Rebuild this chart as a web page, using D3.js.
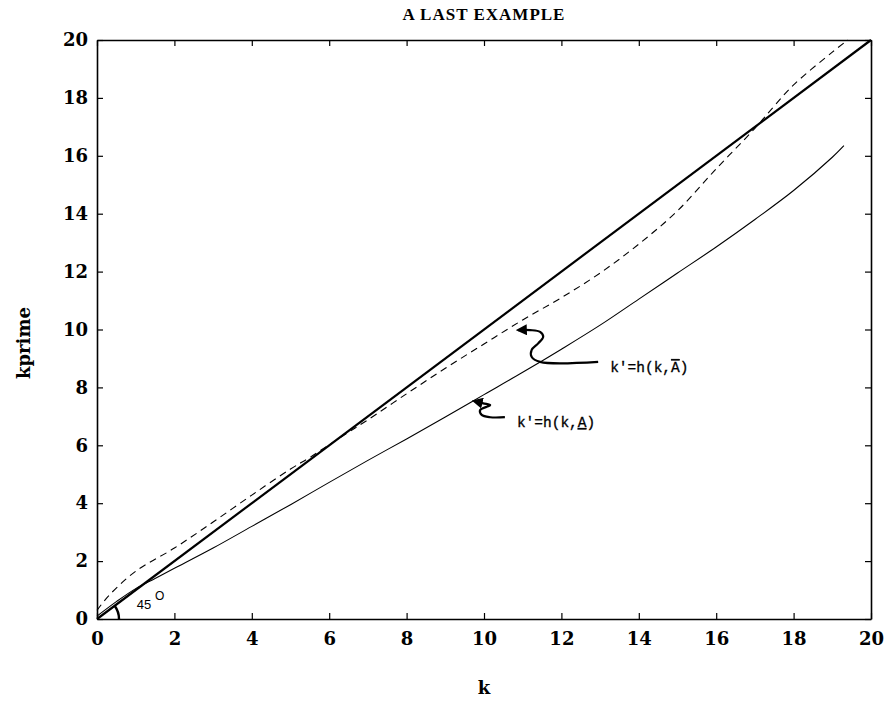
<!DOCTYPE html>
<html>
<head>
<meta charset="utf-8">
<script src="https://cdn.jsdelivr.net/npm/d3@7/dist/d3.min.js"></script>
<style>
  html, body { margin: 0; padding: 0; background: #fff; }
  svg { display: block; }
</style>
</head>
<body>
<svg id="chart" width="890" height="701"></svg>
<script>
// ---------- data ----------
const title = "A LAST EXAMPLE";
const xLabel = "k";
const yLabel = "kprime";
const xTicks = [0, 2, 4, 6, 8, 10, 12, 14, 16, 18, 20];
const yTicks = [0, 2, 4, 6, 8, 10, 12, 14, 16, 18, 20];

// 45 degree line
const line45K = [0, 20];
const line45V = [0, 20];

// k' = h(k, A-bar)  (dashed)
const highK = [0, 0.3, 1, 2, 3, 4, 5, 5.5, 6, 6.5, 7, 8, 9, 10, 11, 12, 13, 14, 15, 16, 17, 17.5, 18, 19, 19.4];
const highV = [0.3, 0.8, 1.65, 2.45, 3.35, 4.28, 5.18, 5.58, 6.02, 6.45, 6.88, 7.78, 8.66, 9.5, 10.33, 11.1, 11.95, 12.95, 14.1, 15.55, 16.95, 17.72, 18.45, 19.58, 20];

// k' = h(k, A-underbar)  (thin solid)
const lowK = [0, 0.5, 1, 1.5, 2, 3, 4, 5, 6, 7, 8, 9, 10, 11, 12, 13, 14, 15, 16, 17, 18, 19, 19.3];
const lowV = [0.1, 0.6, 1.05, 1.4, 1.75, 2.45, 3.2, 3.95, 4.72, 5.48, 6.22, 6.98, 7.75, 8.52, 9.32, 10.15, 11.05, 11.95, 12.85, 13.8, 14.8, 15.95, 16.35];

// annotation squiggles (data coordinates)
const arrowHighK = [12.95, 11.45, 11.23, 11.23, 11.40, 11.53, 11.45, 11.19, 10.88];
const arrowHighV = [8.88, 8.88, 9.06, 9.29, 9.52, 9.75, 9.92, 9.98, 9.98];
const arrowLowK = [10.54, 10.16, 9.94, 9.90, 10.07, 10.16, 9.98, 9.74];
const arrowLowV = [6.97, 6.97, 7.05, 7.22, 7.33, 7.39, 7.45, 7.53];
const labelHigh = {k: 13.26, v: 8.53};
const labelLow = {k: 10.85, v: 6.63};

// ---------- drawing ----------
const svg = d3.select("#chart");
const x = d3.scaleLinear().domain([0, 20]).range([97, 871]);
const y = d3.scaleLinear().domain([0, 20]).range([619, 40]);
const serif = "'DejaVu Serif', serif";
const mono = "'Liberation Mono', 'DejaVu Sans Mono', monospace";

const zip = (a, b) => a.map((d, i) => [d, b[i]]);
const line = d3.line().x(d => x(d[0])).y(d => y(d[1]));

// axes with inward ticks on all four sides
const tickLen = 6;
const axB = svg.append("g").attr("transform", `translate(0,${y(0)})`)
  .call(d3.axisBottom(x).tickValues(xTicks).tickSizeInner(-tickLen).tickSizeOuter(0).tickPadding(13).tickFormat(d3.format("d")));
const axT = svg.append("g").attr("transform", `translate(0,${y(20)})`)
  .call(d3.axisTop(x).tickValues(xTicks).tickSizeInner(-tickLen).tickSizeOuter(0).tickFormat(""));
const axL = svg.append("g").attr("transform", `translate(${x(0)},0)`)
  .call(d3.axisLeft(y).tickValues(yTicks).tickSizeInner(-tickLen).tickSizeOuter(0).tickPadding(9).tickFormat(d3.format("d")));
const axR = svg.append("g").attr("transform", `translate(${x(20)},0)`)
  .call(d3.axisRight(y).tickValues(yTicks).tickSizeInner(-tickLen).tickSizeOuter(0).tickFormat(""));
[axB, axT, axL, axR].forEach(a => {
  a.select(".domain").attr("stroke", "#000").attr("stroke-width", 1.6);
  a.selectAll(".tick line").attr("stroke", "#000").attr("stroke-width", 1.2);
  a.selectAll(".tick text").attr("fill", "#000")
    .style("font-family", serif).style("font-size", "18px").style("font-weight", "bold");
});

// curves
svg.append("path").datum(zip(line45K, line45V)).attr("d", line)
  .attr("fill", "none").attr("stroke", "#000").attr("stroke-width", 2.2);
svg.append("path").datum(zip(highK, highV)).attr("d", line.curve(d3.curveCatmullRom))
  .attr("fill", "none").attr("stroke", "#000").attr("stroke-width", 1.1).attr("stroke-dasharray", "7,5");
svg.append("path").datum(zip(lowK, lowV)).attr("d", line.curve(d3.curveCatmullRom))
  .attr("fill", "none").attr("stroke", "#000").attr("stroke-width", 1.1);

// arrow marker
svg.append("defs").append("marker")
  .attr("id", "ah").attr("viewBox", "0 0 10 10").attr("refX", 8).attr("refY", 5)
  .attr("markerWidth", 5).attr("markerHeight", 5).attr("orient", "auto-start-reverse")
  .attr("markerUnits", "strokeWidth")
  .append("path").attr("d", "M0,0 L10,5 L0,10 Z").attr("fill", "#000");

const sq = d3.line().x(d => x(d[0])).y(d => y(d[1])).curve(d3.curveCatmullRom);
svg.append("path").datum(zip(arrowHighK, arrowHighV)).attr("d", sq)
  .attr("fill", "none").attr("stroke", "#000").attr("stroke-width", 2.2).attr("marker-end", "url(#ah)");
svg.append("path").datum(zip(arrowLowK, arrowLowV)).attr("d", sq)
  .attr("fill", "none").attr("stroke", "#000").attr("stroke-width", 2.2).attr("marker-end", "url(#ah)");

// labels with A-bar / A-underbar
function addLabel(pos, deco) {
  const t = svg.append("text").attr("x", x(pos.k)).attr("y", y(pos.v))
    .style("font-family", mono).style("font-size", "14.5px").attr("fill", "#000")
    .attr("stroke", "#000").attr("stroke-width", 0.3);
  t.append("tspan").text("k'=h(k,");
  t.append("tspan").text("A").style("text-decoration", deco);
  t.append("tspan").text(")");
}
addLabel(labelHigh, "overline");
addLabel(labelLow, "underline");

// 45 degree arc
const ang = Math.atan2(y(0) - y(1), x(1) - x(0));
const arc = d3.arc().innerRadius(22).outerRadius(22).startAngle(Math.PI / 2 - ang).endAngle(Math.PI / 2);
svg.append("path").attr("d", arc()).attr("transform", `translate(${x(0)},${y(0)})`)
  .attr("fill", "none").attr("stroke", "#000").attr("stroke-width", 2.4);
svg.append("text").attr("x", x(1.03)).attr("y", y(0.35))
  .style("font-family", "'Liberation Sans', sans-serif").style("font-size", "13px").text("45");
svg.append("text").attr("x", x(1.5)).attr("y", y(0.65))
  .style("font-family", "'Liberation Sans', sans-serif").style("font-size", "12px").text("O");

// title & axis labels
svg.append("text").attr("x", 484).attr("y", 20).attr("text-anchor", "middle")
  .style("font-family", "'Liberation Serif', serif").style("font-size", "17px").style("font-weight", "bold")
  .style("letter-spacing", "1px")
  .text(title);
svg.append("text").attr("x", (x(0) + x(20)) / 2).attr("y", 694).attr("text-anchor", "middle")
  .style("font-family", serif).style("font-size", "18px").style("font-weight", "bold").text(xLabel);
svg.append("text").attr("transform", `translate(30,343) rotate(-90)`).attr("text-anchor", "middle")
  .style("font-family", serif).style("font-size", "18px").style("font-weight", "bold").text(yLabel);
</script>
</body>
</html>
